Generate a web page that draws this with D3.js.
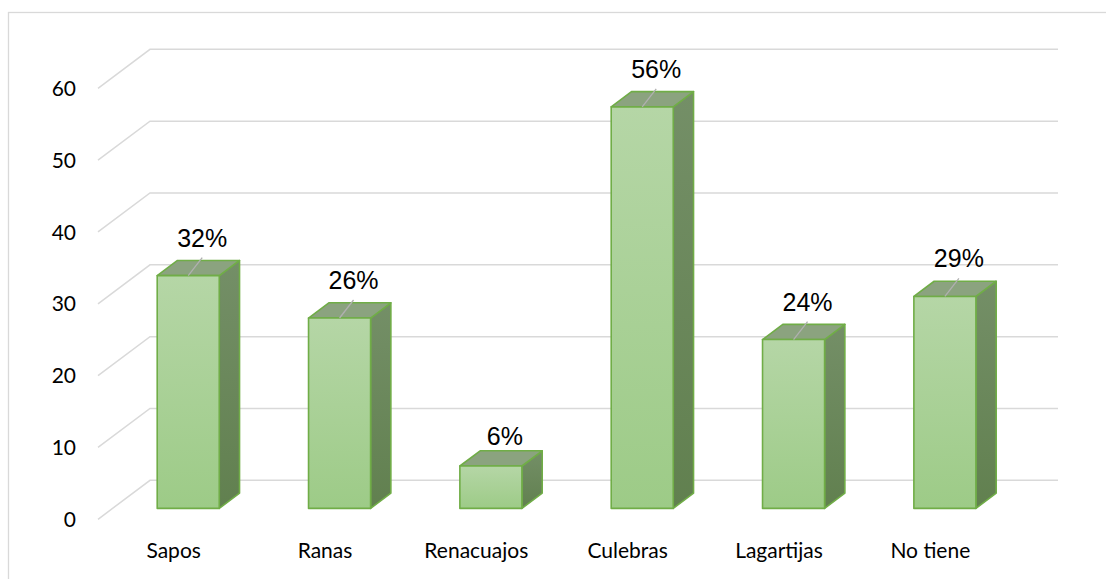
<!DOCTYPE html>
<html>
<head>
<meta charset="utf-8">
<script src="https://cdn.jsdelivr.net/npm/d3@7"></script>
<style>
  body { margin: 0; background: #fff; }
</style>
</head>
<body>
<div id="chart"></div>
<script>
// data
const categories = ["Sapos", "Ranas", "Renacuajos", "Culebras", "Lagartijas", "No tiene"];
const values = [32.4, 26.5, 5.9, 55.9, 23.5, 29.5];
const valueLabels = ["32%", "26%", "6%", "56%", "24%", "29%"];
const yTicks = [0, 10, 20, 30, 40, 50, 60];

const W = 1106, H = 579;
// depth of the 3d box (back wall offset)
const depthX = 52, depthY = -39;
const zFront = 0.28, zBack = 0.67;

const svg = d3.select("#chart").append("svg")
    .attr("width", W)
    .attr("height", H);

// outer chart border
svg.append("rect")
    .attr("x", 8.5).attr("y", 12.5)
    .attr("width", W + 20).attr("height", H + 20)
    .attr("fill", "none")
    .attr("stroke", "#d9d9d9")
    .attr("stroke-width", 1.3);

const x = d3.scaleBand()
    .domain(categories)
    .range([98, 1006])
    .padding(0);

const y = d3.scaleLinear()
    .domain([0, 60])
    .range([519.3, 88.3]);

// oblique projection: z goes from front (0) to back wall (1)
const proj = (px, v, z) => [px + z * depthX, y(v) + z * depthY];

// gradients
const defs = svg.append("defs");
const gFront = defs.append("linearGradient")
    .attr("id", "gFront").attr("x1", 0).attr("y1", 0).attr("x2", 0).attr("y2", 1);
gFront.append("stop").attr("offset", "0%").attr("stop-color", "#b5d6a6");
gFront.append("stop").attr("offset", "100%").attr("stop-color", "#9dcb87");
const gSide = defs.append("linearGradient")
    .attr("id", "gSide").attr("x1", 0).attr("y1", 0).attr("x2", 0).attr("y2", 1);
gSide.append("stop").attr("offset", "0%").attr("stop-color", "#748f67");
gSide.append("stop").attr("offset", "100%").attr("stop-color", "#61804f");

// gridlines: diagonal on the side wall + horizontal on the back wall
const grid = svg.append("g");
yTicks.forEach(t => {
    const a = proj(98, t, 0), b = proj(98, t, 1);
    grid.append("path")
        .attr("d", `M${a[0]},${a[1]}L${b[0]},${b[1]}L${1006 + depthX},${b[1]}`)
        .attr("fill", "none")
        .attr("stroke", "#d9d9d9")
        .attr("stroke-width", 1.5);
});

// y tick labels
svg.append("g").selectAll("text")
    .data(yTicks)
    .join("text")
    .attr("x", 76)
    .attr("y", d => y(d))
    .attr("dy", "0.36em")
    .attr("text-anchor", "end")
    .style("font-family", "Lato, 'Open Sans', sans-serif")
    .style("font-size", "21px")
    .attr("fill", "#000")
    .text(d => d);

// category labels
svg.append("g").selectAll("text")
    .data(categories)
    .join("text")
    .attr("x", d => x(d) + x.bandwidth() / 2)
    .attr("y", 558)
    .attr("text-anchor", "middle")
    .style("font-family", "Lato, 'Open Sans', sans-serif")
    .style("font-size", "21px")
    .attr("fill", "#000")
    .text(d => d);

// bars
const barW = x.bandwidth() * 0.41;
const rows = categories.map((c, i) => ({ cat: c, value: values[i], label: valueLabels[i] }));

const pts = arr => arr.map(p => p.join(",")).join(" ");

const bars = svg.append("g").selectAll("g")
    .data(rows)
    .join("g");

bars.each(function (d) {
    const g = d3.select(this);
    const x0 = x(d.cat) + x.bandwidth() / 2 - barW / 2;
    const x1 = x0 + barW;
    // side face
    g.append("polygon")
        .attr("points", pts([proj(x1, 0, zFront), proj(x1, 0, zBack), proj(x1, d.value, zBack), proj(x1, d.value, zFront)]))
        .attr("fill", "url(#gSide)")
        .attr("stroke", "#70ad47").attr("stroke-width", 1.6).attr("stroke-linejoin", "round");
    // top face
    g.append("polygon")
        .attr("points", pts([proj(x0, d.value, zFront), proj(x1, d.value, zFront), proj(x1, d.value, zBack), proj(x0, d.value, zBack)]))
        .attr("fill", "#8ba37f")
        .attr("stroke", "#70ad47").attr("stroke-width", 1.6).attr("stroke-linejoin", "round");
    // front face
    g.append("polygon")
        .attr("points", pts([proj(x0, 0, zFront), proj(x1, 0, zFront), proj(x1, d.value, zFront), proj(x0, d.value, zFront)]))
        .attr("fill", "url(#gFront)")
        .attr("stroke", "#70ad47").attr("stroke-width", 1.6).attr("stroke-linejoin", "round");

    // data label + leader line
    const top = proj((x0 + x1) / 2, d.value, zFront);
    const lx = top[0] + 14, ly = top[1] - 29;
    if (d.value > 10) {
        g.append("line")
            .attr("x1", lx).attr("y1", ly + 11)
            .attr("x2", top[0]).attr("y2", top[1])
            .attr("stroke", "#b0b0b0")
            .attr("stroke-width", 1.3);
    }
    g.append("text")
        .attr("x", lx)
        .attr("y", d.value > 10 ? ly : top[1] - 21)
        .attr("text-anchor", "middle")
        .style("font-family", "'Liberation Sans', Arial, sans-serif")
        .style("font-size", "25px")
        .attr("fill", "#000")
        .text(d.label);
});
</script>
</body>
</html>
